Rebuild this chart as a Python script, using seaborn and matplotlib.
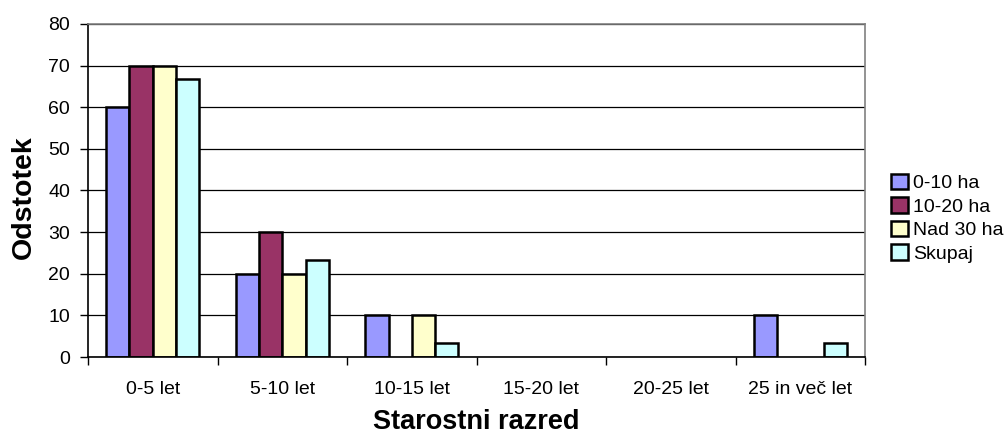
import matplotlib
matplotlib.use("Agg")
import matplotlib.pyplot as plt
from matplotlib.patches import Patch
import numpy as np
import pandas as pd
import seaborn as sns

categories = ["0-5 let", "5-10 let", "10-15 let", "15-20 let", "20-25 let", "25 in več let"]
series_names = ["0-10 ha", "10-20 ha", "Nad 30 ha", "Skupaj"]
v_0_10 = [60, 20, 10, 0, 0, 10]
v_10_20 = [70, 30, 0, 0, 0, 0]
v_nad30 = [70, 20, 10, 0, 0, 0]
v_skupaj = [66.7, 23.3, 3.3, 0, 0, 3.3]
colors = ["#9999FF", "#993366", "#FFFFCC", "#CCFFFF"]

df = pd.DataFrame({
    "razred": categories * 4,
    "serija": [s for s in series_names for _ in categories],
    "odstotek": v_0_10 + v_10_20 + v_nad30 + v_skupaj,
})

sns.set_style("white", {"text.color": "black", "axes.labelcolor": "black",
                        "xtick.color": "black", "ytick.color": "black"})
plt.rcParams["font.family"] = ["Liberation Sans", "DejaVu Sans"]

fig = plt.figure(figsize=(10.08, 4.4), dpi=100)
ax = fig.add_axes([0.0873, 0.1886, 0.771, 0.757])

sns.barplot(data=df, x="razred", y="odstotek", hue="serija", palette=colors,
            saturation=1, edgecolor="black", linewidth=1.8, width=0.72, ax=ax, legend=False)

# Excel does not draw empty bars
for p in ax.patches:
    if p.get_height() == 0:
        p.set_linewidth(0)

ax.set_ylim(0, 80)
ax.set_yticks(np.arange(0, 81, 10))
ax.set_xlim(-0.5, len(categories) - 0.5)
ax.yaxis.grid(True, color="black", linewidth=0.9)
ax.set_axisbelow(True)

for side in ["top", "right"]:
    ax.spines[side].set_color("#808080")
    ax.spines[side].set_linewidth(1.2)
for side in ["left", "bottom"]:
    ax.spines[side].set_color("black")
    ax.spines[side].set_linewidth(1.2)

ax.tick_params(axis="y", direction="out", length=6, width=1, left=True, labelsize=14, pad=7)
ax.set_xticks(np.arange(len(categories)))
ax.set_xticklabels(categories, fontsize=14)
ax.tick_params(axis="x", length=0, pad=17)
ax.set_xticks(np.arange(-0.5, len(categories)), minor=True)
ax.tick_params(axis="x", which="minor", direction="out", length=6, width=1, bottom=True)

ax.set_xlabel("Starostni razred", fontsize=19.5, fontweight="bold", labelpad=8)
ax.set_ylabel("Odstotek", fontsize=20.5, fontweight="bold")
ax.yaxis.set_label_coords(-0.066, 0.48)

handles = [Patch(facecolor=c, edgecolor="black", linewidth=1.8) for c in colors]
ax.legend(handles, series_names, loc="center left", bbox_to_anchor=(0.867, 0.504),
          bbox_transform=fig.transFigure, frameon=False, fontsize=14,
          handlelength=0.85, handleheight=0.85, handletextpad=0.25, labelspacing=0.25)

fig.savefig("out.png", dpi=100)
